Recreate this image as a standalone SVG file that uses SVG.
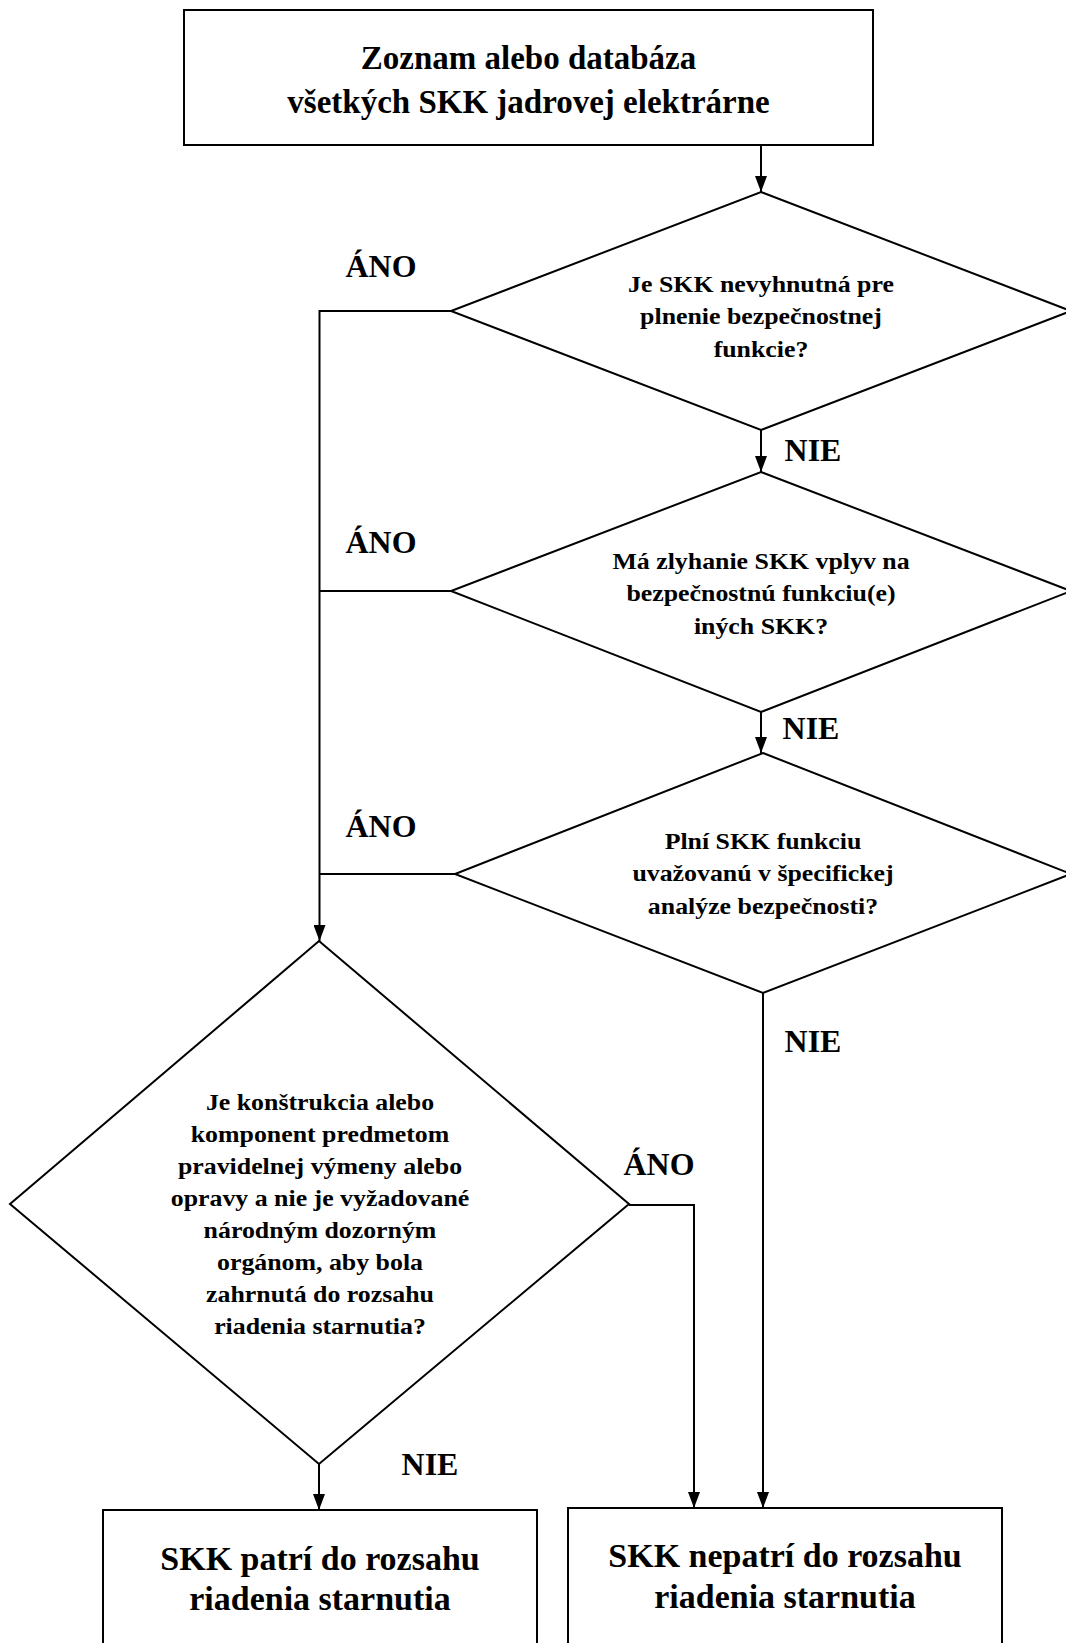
<svg xmlns="http://www.w3.org/2000/svg" width="1066" height="1643" viewBox="0 0 1066 1643">
<defs>
<marker id="ah" markerUnits="userSpaceOnUse" markerWidth="16" markerHeight="12" refX="16" refY="6" orient="auto">
<path d="M0,0 L16,6 L0,12 z" fill="#000"/>
</marker>
<style>
.s{fill:none;stroke:#000;stroke-width:2}
.n{fill:#fff;stroke:#000;stroke-width:2}
text{font-family:"Liberation Serif","Times New Roman",serif;font-weight:bold;fill:#000;text-anchor:middle}
.t{font-size:33px}
.b{font-size:33px}
.d{font-size:23.5px}
.l{font-size:31px}
</style>
</defs>
<rect width="1066" height="1643" fill="#fff"/>
<g id="connectors">
<path class="s" d="M761,145 V192" marker-end="url(#ah)"/>
<path class="s" d="M761,430 V472" marker-end="url(#ah)"/>
<path class="s" d="M761,712 V753" marker-end="url(#ah)"/>
<path class="s" d="M451,311 H319.5 V941" marker-end="url(#ah)"/>
<path class="s" d="M451,591 H319.5"/>
<path class="s" d="M455,874 H319.5"/>
<path class="s" d="M763,993 V1508" marker-end="url(#ah)"/>
<path class="s" d="M629,1205 H694 V1508" marker-end="url(#ah)"/>
<path class="s" d="M319,1464 V1510" marker-end="url(#ah)"/>
</g>
<g id="labels">
<text class="l" transform="translate(381,277) scale(1.03,1)">ÁNO</text>
<text class="l" transform="translate(381,553) scale(1.03,1)">ÁNO</text>
<text class="l" transform="translate(381,837) scale(1.03,1)">ÁNO</text>
<text class="l" transform="translate(659,1175) scale(1.03,1)">ÁNO</text>
<text class="l" transform="translate(813,461) scale(1.03,1)">NIE</text>
<text class="l" transform="translate(811,739) scale(1.03,1)">NIE</text>
<text class="l" transform="translate(813,1052) scale(1.03,1)">NIE</text>
<text class="l" transform="translate(430,1475) scale(1.03,1)">NIE</text>
</g>
<g id="start">
<rect class="n" x="184" y="10" width="689" height="135"/>
<text class="t" x="528.5" y="69">Zoznam alebo databáza</text>
<text class="t" x="528.5" y="113">všetkých SKK jadrovej elektrárne</text>
</g>
<g id="q1">
<polygon class="n" points="761,192 1071,311 761,430 451,311"/>
<g transform="translate(761,0) scale(1.1,1)">
<text class="d" y="292">Je SKK nevyhnutná pre</text>
<text class="d" y="324.5">plnenie bezpečnostnej</text>
<text class="d" y="357">funkcie?</text>
</g>
</g>
<g id="q2">
<polygon class="n" points="761,472 1071,591 761,712 451,591"/>
<g transform="translate(761,0) scale(1.1,1)">
<text class="d" y="569">Má zlyhanie SKK vplyv na</text>
<text class="d" y="601.5">bezpečnostnú funkciu(e)</text>
<text class="d" y="634">iných SKK?</text>
</g>
</g>
<g id="q3">
<polygon class="n" points="763,753 1071,874 763,993 455,874"/>
<g transform="translate(763,0) scale(1.1,1)">
<text class="d" y="849">Plní SKK funkciu</text>
<text class="d" y="881.5">uvažovanú v špecifickej</text>
<text class="d" y="914">analýze bezpečnosti?</text>
</g>
</g>
<g id="q4">
<polygon class="n" points="319,941 629,1204 319,1464 10,1204"/>
<g transform="translate(320,0) scale(1.1,1)">
<text class="d" y="1110">Je konštrukcia alebo</text>
<text class="d" y="1142">komponent predmetom</text>
<text class="d" y="1174">pravidelnej výmeny alebo</text>
<text class="d" y="1206">opravy a nie je vyžadované</text>
<text class="d" y="1238">národným dozorným</text>
<text class="d" y="1270">orgánom, aby bola</text>
<text class="d" y="1302">zahrnutá do rozsahu</text>
<text class="d" y="1334">riadenia starnutia?</text>
</g>
</g>
<g id="in-scope">
<rect class="n" x="103" y="1510" width="434" height="150"/>
<g transform="translate(320,0) scale(1.03,1)">
<text class="b" y="1570">SKK patrí do rozsahu</text>
<text class="b" y="1610">riadenia starnutia</text>
</g>
</g>
<g id="out-of-scope">
<rect class="n" x="568" y="1508" width="434" height="150"/>
<g transform="translate(785,0) scale(1.03,1)">
<text class="b" y="1567">SKK nepatrí do rozsahu</text>
<text class="b" y="1608">riadenia starnutia</text>
</g>
</g>
</svg>
